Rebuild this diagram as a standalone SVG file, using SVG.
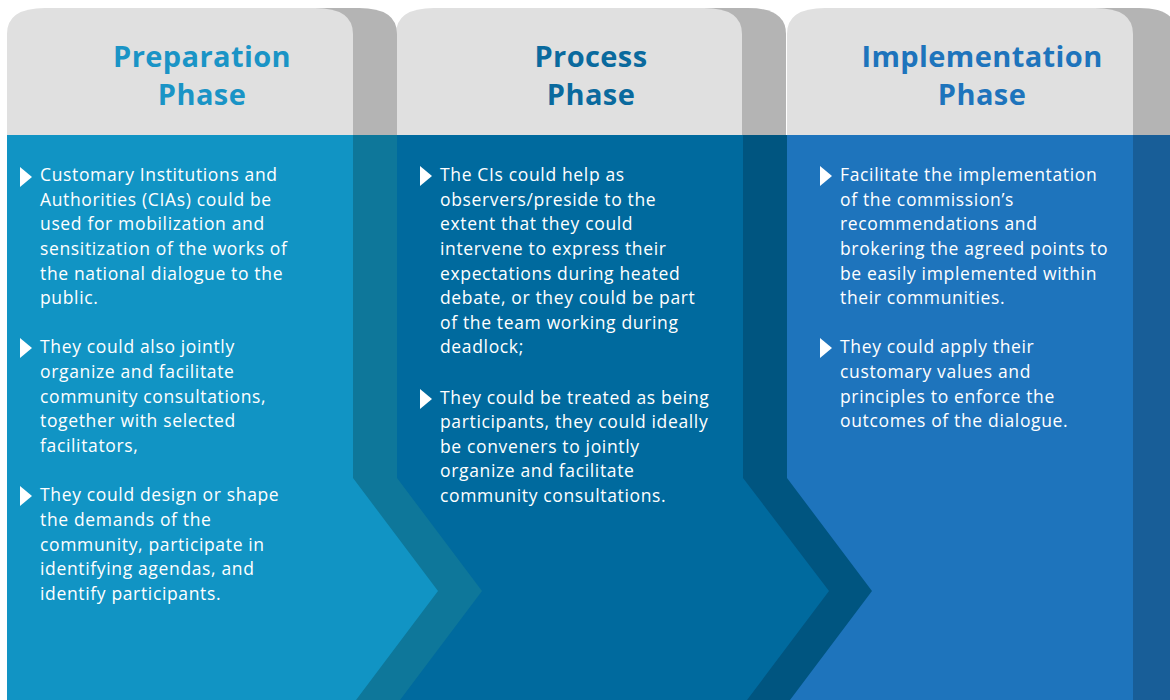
<svg xmlns="http://www.w3.org/2000/svg" width="1170" height="700" viewBox="0 0 1170 700">
  <style>
    .hdr { fill: #e0e0e0; }
    .hdr-sh { fill: #b4b4b4; }
    .title { font-family: "Open Sans", "Liberation Sans", sans-serif; font-weight: 700; font-size: 29px; letter-spacing: 0.4px; text-anchor: middle; }
    .body { font-family: "Open Sans", "Liberation Sans", sans-serif; font-weight: 400; font-size: 17.5px; letter-spacing: 0.65px; fill: #ffffff; }
    .bullet { fill: #ffffff; }
  </style>
  <defs>
    <!-- header tab with rounded top corners, 346 wide, 127 tall -->
    <path id="tab" d="M0,127 V26 Q0,0 38,0 H308 Q346,0 346,26 V127 Z"/>
    <polygon id="tri" points="0,-10 12,0 0,10"/>
  </defs>
  <rect width="1170" height="700" fill="#ffffff"/>

  <!-- Implementation phase (bottom layer) -->
  <g id="implementation-phase">
    <use href="#tab" x="831" y="8" class="hdr-sh"/>
    <use href="#tab" x="787" y="8" class="hdr"/>
    <rect x="787" y="135" width="383" height="565" fill="#185e98"/>
    <rect x="787" y="135" width="346" height="565" fill="#1e74bc"/>
    <text class="title" fill="#1e74bc"><tspan x="982" y="67">Implementation</tspan><tspan x="982" y="105">Phase</tspan></text>
    <use href="#tri" x="820" y="176" class="bullet"/>
    <text class="body"><tspan x="840" y="181">Facilitate the implementation</tspan><tspan x="840" y="206">of the commission’s</tspan><tspan x="840" y="230">recommendations and</tspan><tspan x="840" y="255">brokering the agreed points to</tspan><tspan x="840" y="280">be easily implemented within</tspan><tspan x="840" y="304">their communities.</tspan></text>
    <use href="#tri" x="820" y="348" class="bullet"/>
    <text class="body"><tspan x="840" y="353">They could apply their</tspan><tspan x="840" y="378">customary values and</tspan><tspan x="840" y="403">principles to enforce the</tspan><tspan x="840" y="427">outcomes of the dialogue.</tspan></text>
  </g>

  <!-- Process phase -->
  <g id="process-phase">
    <use href="#tab" x="440" y="8" class="hdr-sh"/>
    <use href="#tab" x="396" y="8" class="hdr"/>
    <polygon points="396,135 787,135 787,478 872,591 790,700 396,700" fill="#005580"/>
    <polygon points="396,135 743,135 743,478 829,591 747,700 396,700" fill="#006a9e"/>
    <text class="title" fill="#0a6a9e"><tspan x="591" y="67">Process</tspan><tspan x="591" y="105">Phase</tspan></text>
    <use href="#tri" x="420" y="176" class="bullet"/>
    <text class="body"><tspan x="440" y="181">The CIs could help as</tspan><tspan x="440" y="206">observers/preside to the</tspan><tspan x="440" y="230">extent that they could</tspan><tspan x="440" y="255">intervene to express their</tspan><tspan x="440" y="280">expectations during heated</tspan><tspan x="440" y="304">debate, or they could be part</tspan><tspan x="440" y="329">of the team working during</tspan><tspan x="440" y="353">deadlock;</tspan></text>
    <use href="#tri" x="420" y="399" class="bullet"/>
    <text class="body"><tspan x="440" y="404">They could be treated as being</tspan><tspan x="440" y="428">participants, they could ideally</tspan><tspan x="440" y="453">be conveners to jointly</tspan><tspan x="440" y="477">organize and facilitate</tspan><tspan x="440" y="502">community consultations.</tspan></text>
  </g>

  <!-- Preparation phase (top layer) -->
  <g id="preparation-phase">
    <use href="#tab" x="51" y="8" class="hdr-sh"/>
    <use href="#tab" x="7" y="8" class="hdr"/>
    <polygon points="7,135 397,135 397,478 482,591 400,700 7,700" fill="#0e779a"/>
    <polygon points="7,135 353,135 353,478 438,591 356,700 7,700" fill="#1194c4"/>
    <text class="title" fill="#1a94c6"><tspan x="202" y="67">Preparation</tspan><tspan x="202" y="105">Phase</tspan></text>
    <use href="#tri" x="20" y="177" class="bullet"/>
    <text class="body"><tspan x="40" y="181">Customary Institutions and</tspan><tspan x="40" y="206">Authorities (CIAs) could be</tspan><tspan x="40" y="230">used for mobilization and</tspan><tspan x="40" y="255">sensitization of the works of</tspan><tspan x="40" y="280">the national dialogue to the</tspan><tspan x="40" y="304">public.</tspan></text>
    <use href="#tri" x="20" y="348" class="bullet"/>
    <text class="body"><tspan x="40" y="353">They could also jointly</tspan><tspan x="40" y="378">organize and facilitate</tspan><tspan x="40" y="403">community consultations,</tspan><tspan x="40" y="427">together with selected</tspan><tspan x="40" y="452">facilitators,</tspan></text>
    <use href="#tri" x="20" y="496" class="bullet"/>
    <text class="body"><tspan x="40" y="501">They could design or shape</tspan><tspan x="40" y="526">the demands of the</tspan><tspan x="40" y="551">community, participate in</tspan><tspan x="40" y="575">identifying agendas, and</tspan><tspan x="40" y="600">identify participants.</tspan></text>
  </g>
</svg>
